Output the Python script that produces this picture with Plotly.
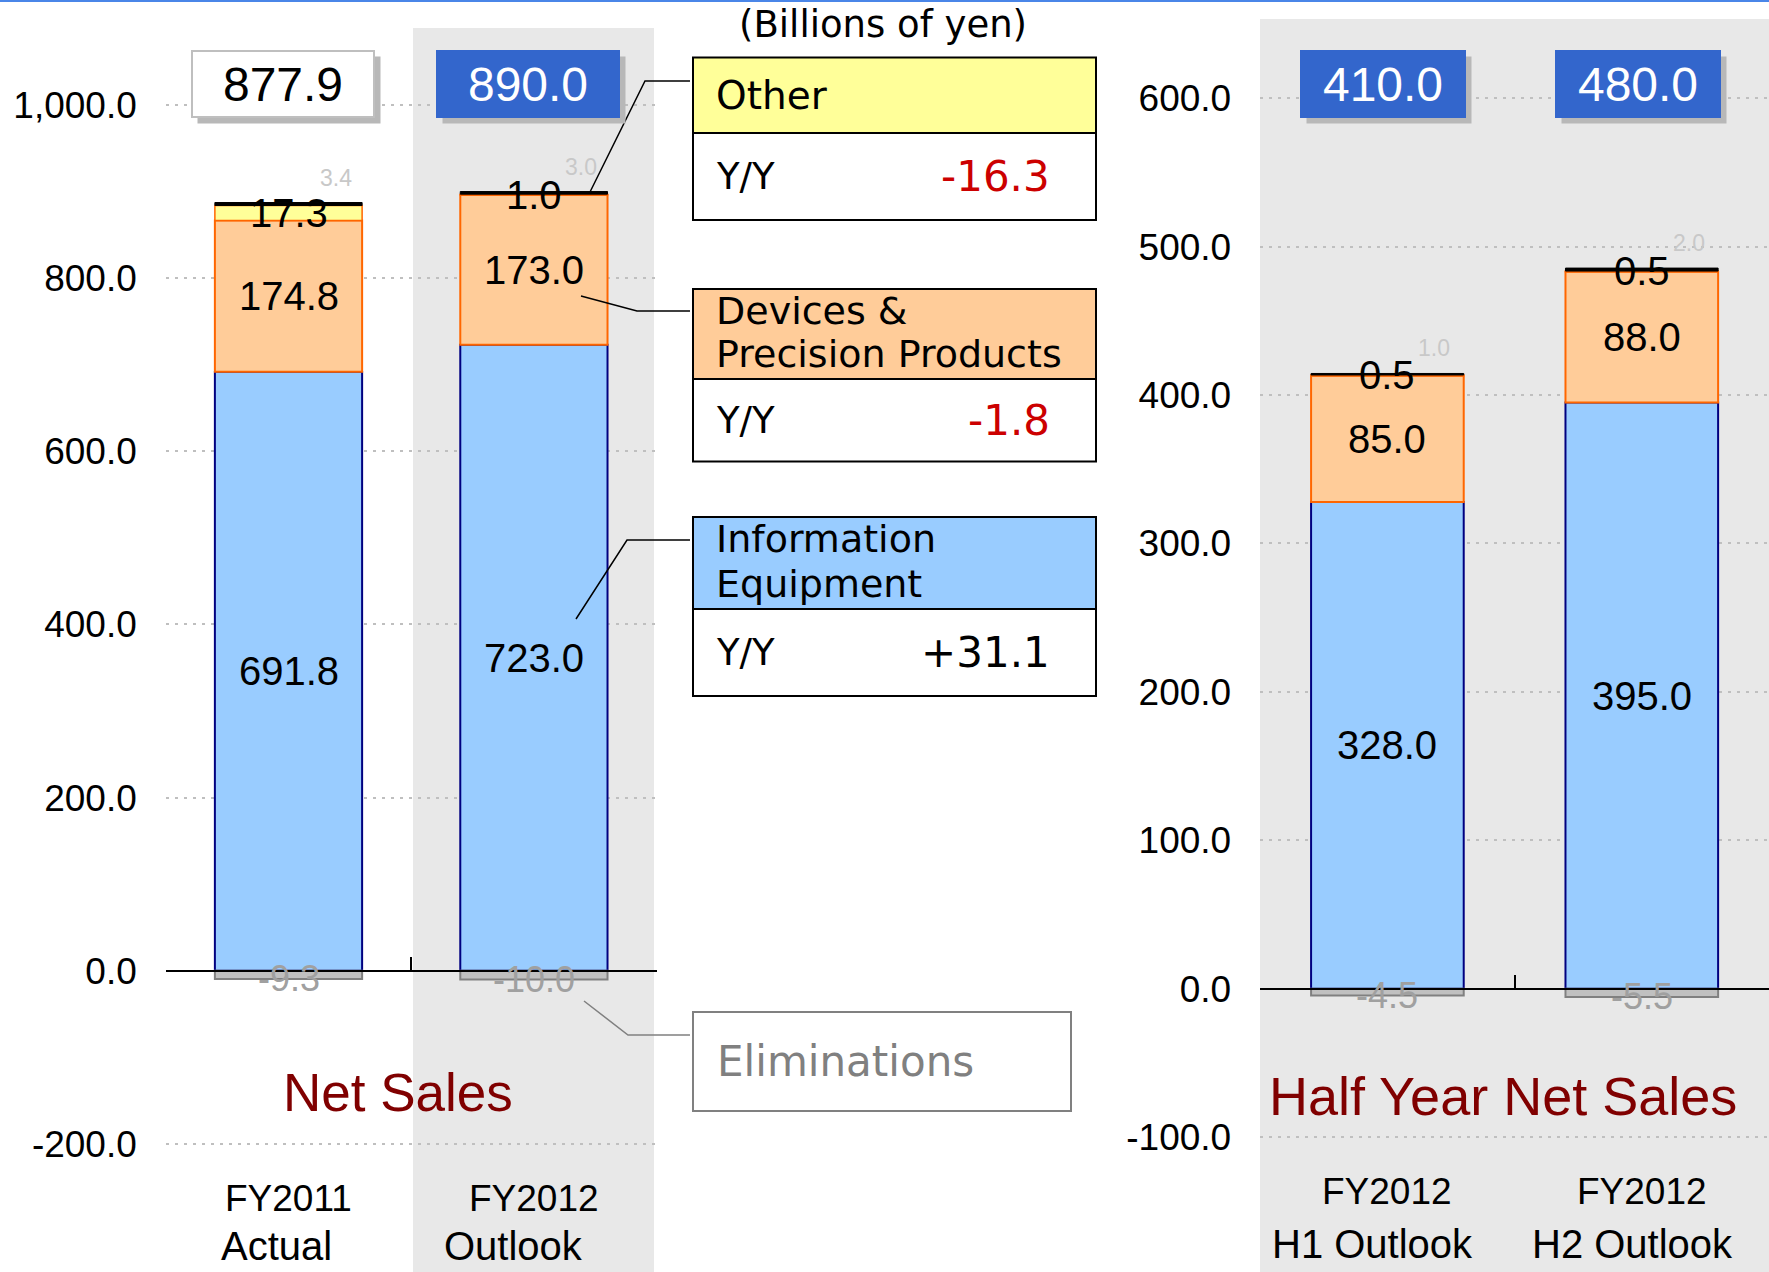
import plotly.graph_objects as go

W, H = 1769, 1272

# Net Sales, billions of yen
fy_cats = ["FY2011 Actual", "FY2012 Outlook"]
fy_line1 = ["FY2011", "FY2012"]
fy_line2 = ["Actual", "Outlook"]
fy_info = [691.8, 723.0]
fy_devices = [174.8, 173.0]
fy_other = [17.3, 1.0]
fy_corp = [3.4, 3.0]
fy_elim = [-9.3, -10.0]
fy_total = [877.9, 890.0]
fy_ticks = [-200, 0, 200, 400, 600, 800, 1000]

# Half year net sales
hy_cats = ["FY2012 H1 Outlook", "FY2012 H2 Outlook"]
hy_line1 = ["FY2012", "FY2012"]
hy_line2 = ["H1 Outlook", "H2 Outlook"]
hy_info = [328.0, 395.0]
hy_devices = [85.0, 88.0]
hy_other = [0.5, 0.5]
hy_corp = [1.0, 2.0]
hy_elim = [-4.5, -5.5]
hy_total = [410.0, 480.0]
hy_ticks = [-100, 0, 100, 200, 300, 400, 500, 600]

# Y/Y changes shown in the middle legend
yy_values = ["-16.3", "-1.8", "+31.1"]
yy_colors = ["#CC0000", "#CC0000", "#000000"]

NUM_FONT = "Liberation Sans, Arial, sans-serif"
LEG_FONT = "DejaVu Sans, Verdana, sans-serif"
C_INFO, C_INFO_LINE = "#99CCFF", "#000080"
C_DEV, C_DEV_LINE = "#FFCC99", "#FF6600"
C_OTHER = "#FFFF99"
C_ELIM, C_ELIM_LINE = "#C0C0C0", "#808080"
C_BLUE = "#3366CC"
GRID = "#BFBFBF"


def px(x):
    return x / W


def py(y):
    return 1 - y / H


def note(x, y, text, size, color="#000000", family=NUM_FONT, xanchor="center", **kw):
    fig.add_annotation(x=px(x), y=py(y), xref="paper", yref="paper", text=text, showarrow=False,
                       xanchor=xanchor, yanchor="middle",
                       font=dict(family=family, size=size, color=color), **kw)


fig = go.Figure()

panels = [
    (fy_cats, fy_info, fy_devices, fy_other, fy_corp, fy_elim, "x", "y"),
    (hy_cats, hy_info, hy_devices, hy_other, hy_corp, hy_elim, "x2", "y2"),
]

for cats, info, dev, oth, corp, elim, xa, ya in panels:
    fig.add_trace(go.Bar(x=cats, y=info, xaxis=xa, yaxis=ya, name="Information Equipment",
                         marker=dict(color=C_INFO, line=dict(color=C_INFO_LINE, width=2))))
    fig.add_trace(go.Bar(x=cats, y=dev, xaxis=xa, yaxis=ya, name="Devices & Precision Products",
                         marker=dict(color=C_DEV, line=dict(color=C_DEV_LINE, width=2))))
    fig.add_trace(go.Bar(x=cats, y=oth, xaxis=xa, yaxis=ya, name="Other",
                         marker=dict(color=C_OTHER, line=dict(color=C_DEV_LINE, width=1.5))))
    fig.add_trace(go.Bar(x=cats, y=corp, xaxis=xa, yaxis=ya, name="Corporate",
                         marker=dict(color="#000000", line=dict(color="#000000", width=1))))
    fig.add_trace(go.Bar(x=cats, y=elim, xaxis=xa, yaxis=ya, name="Eliminations",
                         marker=dict(color=C_ELIM, line=dict(color=C_ELIM_LINE, width=2))))

    for i, c in enumerate(cats):
        base = info[i] + dev[i]
        top = base + oth[i] + corp[i]
        for val, ymid in [(info[i], info[i] / 2), (dev[i], info[i] + dev[i] / 2),
                          (oth[i], base + oth[i] / 2)]:
            fig.add_annotation(x=c, y=ymid, xref=xa, yref=ya, text=f"{val:.1f}", showarrow=False,
                               font=dict(family=NUM_FONT, size=40, color="#000000"))
        fig.add_annotation(x=c, y=top, xref=xa, yref=ya, text=f"{corp[i]:.1f}", showarrow=False,
                           xshift=47, yshift=25, font=dict(family=NUM_FONT, size=23, color="#C8C8C8"))
        fig.add_annotation(x=c, y=elim[i], xref=xa, yref=ya, text=f"{elim[i]:.1f}", showarrow=False,
                           font=dict(family=NUM_FONT, size=36, color="#A0A0A0"))

# total boxes above the bars
for cats, totals, xr, w, xs, white_first in [(fy_cats, fy_total, "x", 180, -6, True),
                                            (hy_cats, hy_total, "x2", 162, -4, False)]:
    for i, c in enumerate(cats):
        white = white_first and i == 0
        fig.add_annotation(x=c, xref=xr, y=py(83.5), yref="paper", yanchor="middle", text=" ",
                           showarrow=False, width=w, height=64, bgcolor="#B8B8B8",
                           xshift=xs + 6, yshift=-6)
        fig.add_annotation(x=c, xref=xr, y=py(83.5), yref="paper", yanchor="middle",
                           text=f"{totals[i]:.1f}", showarrow=False, width=w, height=64, xshift=xs,
                           bgcolor="#FFFFFF" if white else C_BLUE,
                           bordercolor="#BFBFBF" if white else C_BLUE, borderwidth=2, borderpad=0,
                           font=dict(family=NUM_FONT, size=48, color="#000000" if white else "#FFFFFF"))

# category labels under each panel
for cats, l1, l2, xr, y1, y2, shifts in [
        (fy_cats, fy_line1, fy_line2, "x", 1198, 1246, [-12, -20]),
        (hy_cats, hy_line1, hy_line2, "x2", 1191, 1244, [-15, -9])]:
    for i, c in enumerate(cats):
        fig.add_annotation(x=c, xref=xr, y=py(y1), yref="paper", yanchor="middle", text=l1[i],
                           showarrow=False, font=dict(family=NUM_FONT, size=37, color="#000000"))
        fig.add_annotation(x=c, xref=xr, y=py(y2), yref="paper", yanchor="middle", text=l2[i],
                           showarrow=False, xshift=shifts[i],
                           font=dict(family=NUM_FONT, size=40, color="#000000"))

# panel titles
note(398, 1092, "Net Sales", 53, "#800000")
note(1503, 1096, "Half Year Net Sales", 54, "#800000")
note(883, 25, "(Billions of yen)", 37, family=LEG_FONT)

shapes = []
# grey bands behind the outlook columns
shapes.append(dict(type="rect", xref="paper", yref="paper", x0=px(413), x1=px(654), y0=0, y1=py(28),
                   fillcolor="#E8E8E8", line=dict(width=0), layer="below"))
shapes.append(dict(type="rect", xref="paper", yref="paper", x0=px(1260), x1=1, y0=0, y1=py(19),
                   fillcolor="#E8E8E8", line=dict(width=0), layer="below"))
# blue rule along the top
shapes.append(dict(type="line", xref="paper", yref="paper", x0=0, x1=1, y0=py(1), y1=py(1),
                   line=dict(color="#4A86E8", width=2)))

# legend boxes in the middle
X0, X1 = px(693), px(1096)
legend_boxes = [
    (57.5, 133, 220, C_OTHER, ["Other"], [96], 177),
    (289, 379, 461.5, C_DEV, ["Devices &", "Precision Products"], [311, 354], 420),
    (517, 609, 696, C_INFO, ["Information", "Equipment"], [539, 584], 652),
]
for k, (top, mid, bot, col, lines, ys, yy) in enumerate(legend_boxes):
    shapes.append(dict(type="rect", xref="paper", yref="paper", x0=X0, x1=X1, y0=py(mid), y1=py(top),
                       fillcolor=col, line=dict(color="#000000", width=2)))
    shapes.append(dict(type="rect", xref="paper", yref="paper", x0=X0, x1=X1, y0=py(bot), y1=py(mid),
                       fillcolor="#FFFFFF", line=dict(color="#000000", width=2)))
    for txt, yl in zip(lines, ys):
        note(714, yl, txt, 38 if len(lines) > 1 else 39, family=LEG_FONT, xanchor="left")
    note(714, yy, "Y/Y", 37, family=LEG_FONT, xanchor="left")
    note(1052, yy, yy_values[k], 42, yy_colors[k], family=LEG_FONT, xanchor="right")

shapes.append(dict(type="rect", xref="paper", yref="paper", x0=X0, x1=px(1071), y0=py(1111), y1=py(1012),
                   fillcolor="#FFFFFF", line=dict(color="#808080", width=2)))
note(715, 1061, "Eliminations", 42, "#808080", family=LEG_FONT, xanchor="left")

# leader lines from bars to legend boxes
leaders = [
    ([(590, 192), (645, 81), (690, 81)], "#000000"),
    ([(581, 296), (637, 311), (690, 311)], "#000000"),
    ([(576, 619), (627, 540), (690, 540)], "#000000"),
    ([(584, 1001), (628, 1035), (690, 1035)], "#808080"),
]
for pts, col in leaders:
    path = "M " + " L ".join(f"{px(a):.5f},{py(b):.5f}" for a, b in pts)
    shapes.append(dict(type="path", xref="paper", yref="paper", path=path,
                       line=dict(color=col, width=1.5)))

fig.update_layout(shapes=shapes)

axis_common = dict(showgrid=True, gridcolor=GRID, gridwidth=2, griddash="3px,6px", zeroline=False,
                   tickfont=dict(family=NUM_FONT, size=37, color="#000000"),
                   showline=False, ticks="", ticklabelstandoff=28)
x_common = dict(showline=True, linecolor="#000000", linewidth=2, ticks="inside", tickson="boundaries",
                ticklen=13, tickwidth=2, tickcolor="#000000", showticklabels=False, showgrid=False,
                anchor="free", range=[-0.5, 1.5], fixedrange=True)

fig.update_layout(
    width=W, height=H,
    margin=dict(l=0, r=0, t=0, b=0),
    paper_bgcolor="#FFFFFF",
    plot_bgcolor="rgba(0,0,0,0)",
    barmode="relative",
    bargap=0.4,
    showlegend=False,
    xaxis=dict(domain=[px(165.8), px(656.6)], position=py(970.8), **x_common),
    yaxis=dict(domain=[0, 1], range=[-347.8, 1121.2], tickvals=fy_ticks,
               ticktext=[f"{v:,.1f}" for v in fy_ticks], anchor="x", **axis_common),
    xaxis2=dict(domain=[px(1260.2), 1.0], position=py(988.8), **x_common),
    yaxis2=dict(domain=[0, 1], range=[-190.8, 666.1], tickvals=hy_ticks,
                ticktext=[f"{v:,.1f}" for v in hy_ticks], anchor="x2", **axis_common),
)

fig.write_html("out.html", post_script="document.body.style.margin='0';",
               config={"displayModeBar": False})
